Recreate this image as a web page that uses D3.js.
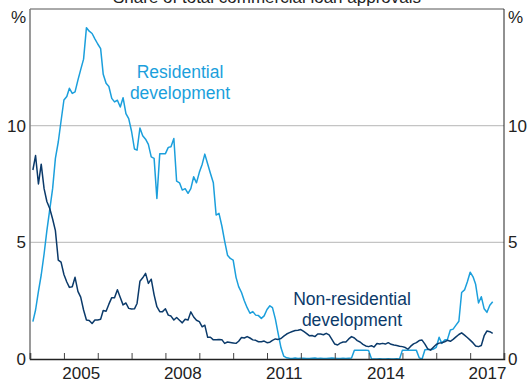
<!DOCTYPE html>
<html>
<head>
<meta charset="utf-8">
<script src="https://cdn.jsdelivr.net/npm/d3@7"></script>
<style>
  html, body { margin: 0; padding: 0; background: #fff; }
  svg { display: block; }
  text { font-family: Arial, "Liberation Sans", sans-serif; }
</style>
</head>
<body>
<svg id="chart" width="529" height="385"></svg>
<script>
// Monthly series, first observation February 2004 (per cent of total approvals)
const firstMonth = "2004-02";
const residential = [
  1.6, 2.1, 2.9, 3.6, 4.5, 5.5, 6.4, 7.3, 8.6, 9.3,
  10.2, 11.1, 11.25, 11.6, 11.38, 11.45, 11.95, 12.4, 12.85, 14.2,
  14.05, 13.95, 13.72, 13.5, 13.3, 12.2, 11.82, 11.68, 11.17, 11.02,
  11.09, 10.8, 11.2, 10.52, 10.3, 9.75, 9.0, 8.95, 9.9, 9.57,
  9.42, 9.2, 8.66, 8.6, 6.88, 8.8, 8.8, 8.8, 9.07, 9.1,
  9.45, 7.62, 7.55, 7.24, 7.3, 7.1, 7.3, 7.81, 7.55, 8.0,
  8.35, 8.78, 8.36, 7.95, 7.55, 6.17, 6.24, 5.7, 5.05, 4.45,
  4.31, 4.24, 3.5, 3.1, 2.85, 2.5, 2.2, 1.96, 2.03, 1.88,
  1.86, 1.74, 1.85, 2.12, 2.28, 2.2, 1.72, 1.1, 0.48, 0.12,
  0.05, 0.03, 0.02, 0.04, 0.02, 0.03, 0.03, 0.02, 0.02, 0.03,
  0.04, 0.02, 0.03, 0.02, 0.02, 0.03, 0.04, 0.03, 0.02, 0.02,
  0.03, 0.02, 0.03, 0.04,
  0.38, 0.38, 0.37, 0.38, 0.38, 0.36,
  0.01, 0, 0, 0.01, 0, 0, 0.01, 0, 0, 0.01, 0,
  0.38, 0.38, 0.37, 0.38, 0.38, 0.37,
  0.05, 0, 0.4,
  0.41, 0.41, 0.42, 0.5, 0.93, 0.67, 0.81, 0.84,
  1.24, 1.28, 1.45, 1.62, 2.85, 2.96, 3.3, 3.72,
  3.52, 3.2, 2.4, 2.67, 2.15, 2.0, 2.3, 2.45
];
const nonResidential = [
  8.1, 8.72, 7.5, 8.35, 7.3, 6.75, 6.45, 6.0, 5.5, 4.24,
  4.15, 3.62, 3.3, 3.07, 3.1, 3.5, 2.9, 2.65, 2.1, 1.67,
  1.65, 1.52, 1.67, 1.67, 1.7, 2.08, 2.05, 2.35, 2.63, 2.62,
  2.97, 2.64, 2.32, 2.4, 2.17, 2.14, 2.15, 2.38, 3.33, 3.48,
  3.67, 3.24, 3.42, 2.75, 2.24, 2.03, 2.03, 2.15, 1.88, 1.84,
  1.67, 1.78, 1.66, 1.55, 1.7, 1.67, 2.02, 1.8, 1.66, 1.6,
  1.38, 1.45, 0.93, 0.93, 0.82, 0.83, 0.84, 0.83, 0.67, 0.73,
  0.71, 0.69, 0.67, 0.76, 0.92, 0.9, 0.96, 0.9, 0.82, 0.8,
  0.74, 0.74, 0.77, 0.7, 0.72, 0.8, 0.86, 0.84, 0.88, 0.98,
  1.07, 1.13, 1.18, 1.22, 1.23, 1.26, 1.18, 1.1, 1.0, 1.01,
  0.96, 1.07, 1.07, 1.04, 1.1, 1.03, 0.84, 0.64, 0.6, 0.68,
  0.73, 0.73, 0.86, 0.96, 0.9, 0.79, 0.73, 0.63, 0.56, 0.53,
  0.57, 0.51, 0.66, 0.64, 0.67, 0.64, 0.7, 0.63, 0.6, 0.58,
  0.55, 0.53, 0.49, 0.42, 0.55, 0.65, 0.7, 0.79, 0.81, 0.64,
  0.43, 0.38, 0.5, 0.62, 0.68, 0.7, 0.74, 0.8, 0.76, 0.84,
  0.95, 1.05, 1.12, 1.02, 0.92, 0.81, 0.69, 0.56, 0.53, 0.58,
  1.0, 1.2, 1.17, 1.1
];
const yTicks = [0, 5, 10];
const yearLabels = [2005, 2008, 2011, 2014, 2017];
const title = "Share of total commercial loan approvals";
const unit = "%";
const seriesLabels = {
  residential: ["Residential", "development"],
  nonResidential: ["Non-residential", "development"]
};

const colors = { residential: "#1b9fdc", nonResidential: "#0b3a6a" };
const font = 17;
const labelFont = 17.5;

const svg = d3.select("#chart");
const plot = { left: 30, right: 504, top: 9, bottom: 359 };

const parseMonth = d3.timeParse("%Y-%m");
const start = parseMonth(firstMonth);
const toSeries = vals => vals.map((v, i) => ({ date: d3.timeMonth.offset(start, i), value: v }));

const x = d3.scaleTime()
  .domain([new Date(2004, 0, 1), new Date(2018, 0, 1)])
  .range([plot.left, plot.right]);
const y = d3.scaleLinear().domain([0, 15]).range([plot.bottom, plot.top]);

// Gridlines
svg.append("g").selectAll("line")
  .data(yTicks.filter(d => d > 0))
  .join("line")
  .attr("x1", plot.left).attr("x2", plot.right)
  .attr("y1", d => y(d)).attr("y2", d => y(d))
  .attr("stroke", "#c4c4c4").attr("stroke-width", 1.2);

// Series lines
const line = d3.line().x(d => x(d.date)).y(d => y(d.value));
svg.append("path").datum(toSeries(residential))
  .attr("fill", "none").attr("stroke", colors.residential)
  .attr("stroke-width", 1.5).attr("stroke-linejoin", "round")
  .attr("d", line);
svg.append("path").datum(toSeries(nonResidential))
  .attr("fill", "none").attr("stroke", colors.nonResidential)
  .attr("stroke-width", 1.5).attr("stroke-linejoin", "round")
  .attr("d", line);

// Frame
svg.append("line").attr("x1", plot.left).attr("x2", plot.right)
  .attr("y1", plot.top).attr("y2", plot.top)
  .attr("stroke", "#555").attr("stroke-width", 1);
svg.append("line").attr("x1", plot.left).attr("x2", plot.left)
  .attr("y1", plot.top).attr("y2", plot.bottom)
  .attr("stroke", "#808080").attr("stroke-width", 1.6);
svg.append("line").attr("x1", plot.right).attr("x2", plot.right)
  .attr("y1", plot.top).attr("y2", plot.bottom)
  .attr("stroke", "#222").attr("stroke-width", 1);

// Bottom axis: year ticks pointing into the plot
const xAxis = svg.append("g")
  .attr("transform", `translate(0,${plot.bottom})`)
  .call(d3.axisBottom(x).ticks(d3.timeYear.every(1)).tickSize(-6).tickFormat(""));
xAxis.select(".domain").attr("stroke", "#222").attr("stroke-width", 1.5);
xAxis.selectAll(".tick line").attr("stroke", "#444").attr("stroke-width", 1);

// Year labels centred on each year
const xLabels = svg.append("g")
  .attr("transform", `translate(0,${plot.bottom})`)
  .call(d3.axisBottom(x)
    .tickValues(yearLabels.map(yr => new Date(yr, 6, 1)))
    .tickSize(0).tickPadding(8)
    .tickFormat(d3.timeFormat("%Y")));
xLabels.select(".domain").remove();
xLabels.selectAll("text").attr("font-size", font).attr("fill", "#222")
  .style("font-family", "Arial, 'Liberation Sans', sans-serif");

// Left and right value axes
const yLeft = svg.append("g").attr("transform", `translate(${plot.left},0)`)
  .call(d3.axisLeft(y).tickValues(yTicks).tickSize(0).tickPadding(4));
yLeft.select(".domain").remove();
const yRight = svg.append("g").attr("transform", `translate(${plot.right},0)`)
  .call(d3.axisRight(y).tickValues(yTicks).tickSize(0).tickPadding(4));
yRight.select(".domain").remove();
svg.selectAll(".tick text").attr("font-size", font).attr("fill", "#222")
  .style("font-family", "Arial, 'Liberation Sans', sans-serif");

// Units
svg.append("text").attr("x", plot.left - 4).attr("y", 23)
  .attr("text-anchor", "end").attr("font-size", font).attr("fill", "#222").text(unit);
svg.append("text").attr("x", plot.right + 4).attr("y", 23)
  .attr("text-anchor", "start").attr("font-size", font).attr("fill", "#222").text(unit);

// Title, sitting at the top edge above the frame
svg.append("text").attr("x", (plot.left + plot.right) / 2).attr("y", 3)
  .attr("text-anchor", "middle").attr("font-size", font).attr("fill", "#222").text(title);

// Series labels
svg.append("text").attr("x", 180).attr("y", 78)
  .attr("text-anchor", "middle").attr("font-size", labelFont).attr("fill", colors.residential)
  .selectAll("tspan").data(seriesLabels.residential).join("tspan")
  .attr("x", 180).attr("dy", (d, i) => i ? 21 : 0).text(d => d);
svg.append("text").attr("x", 352).attr("y", 305)
  .attr("text-anchor", "middle").attr("font-size", labelFont).attr("fill", colors.nonResidential)
  .selectAll("tspan").data(seriesLabels.nonResidential).join("tspan")
  .attr("x", 352).attr("dy", (d, i) => i ? 21 : 0).text(d => d);
</script>
</body>
</html>
